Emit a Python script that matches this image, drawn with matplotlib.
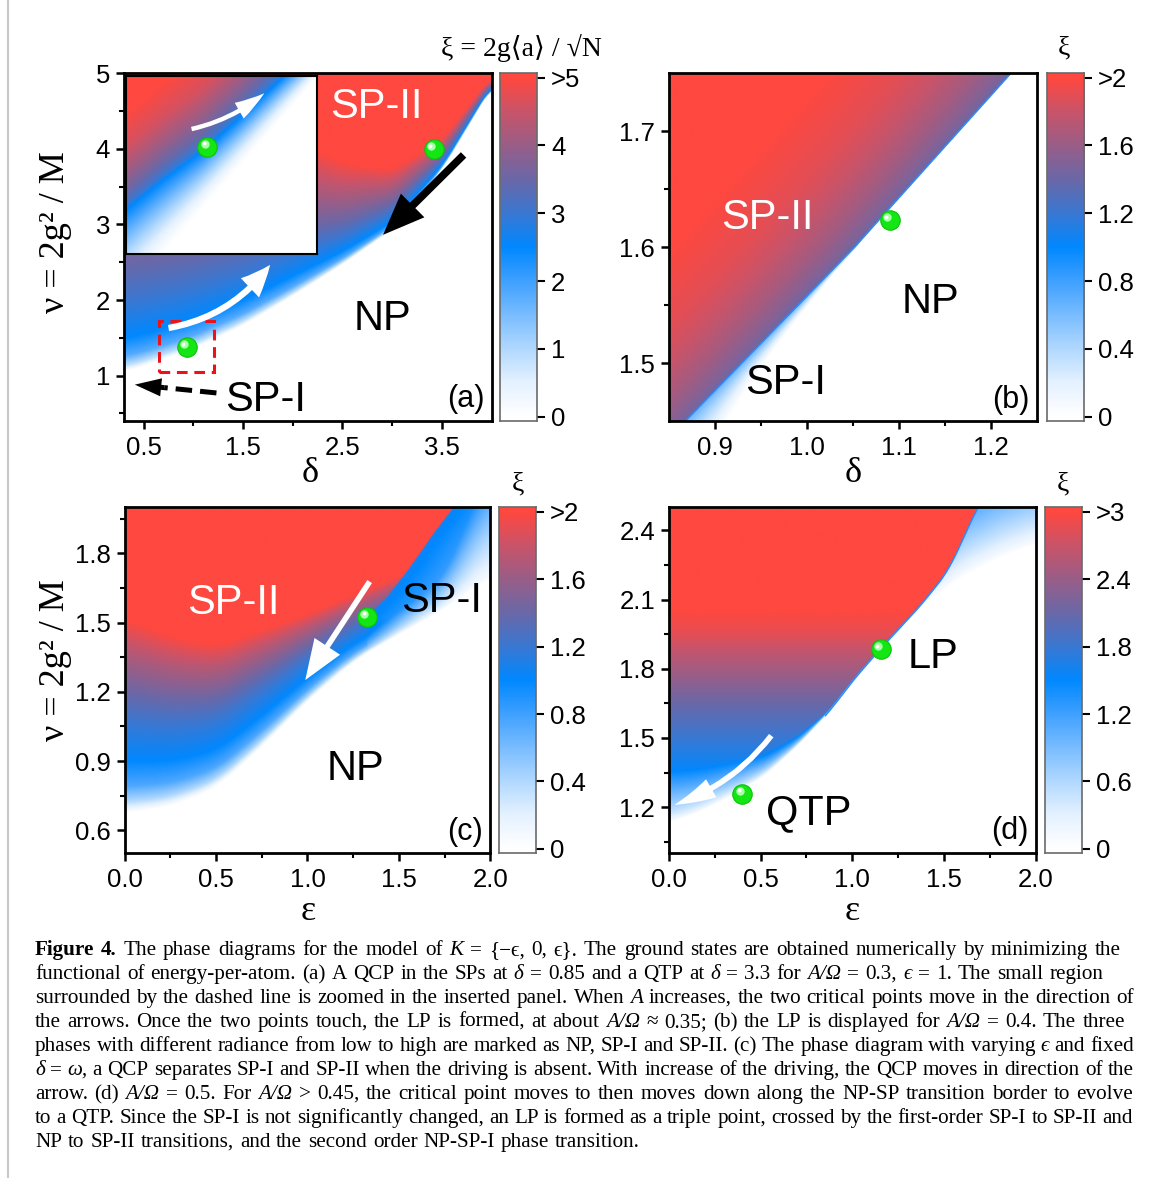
import numpy as np
import matplotlib
matplotlib.use('Agg')
import matplotlib.pyplot as plt
from matplotlib.colors import LinearSegmentedColormap
from matplotlib.patches import FancyArrowPatch, Rectangle
from matplotlib.lines import Line2D
from matplotlib import transforms

plt.rcParams['font.family'] = ['Liberation Sans', 'DejaVu Sans']
SERIF = ['Liberation Serif', 'DejaVu Serif', 'DejaVu Sans']

W, H = 1167, 1178
fig = plt.figure(figsize=(W / 100, H / 100), dpi=100)


def fx(px):
    return px / W


def fy(py):
    return 1 - py / H


def rect(x0, y0, x1, y1):
    return [fx(x0), fy(y1), (x1 - x0) / W, (y1 - y0) / H]


# colour scale (white -> blue -> red)
cmap_pos = [0.0, 0.1, 0.2, 0.3, 0.4, 0.5, 0.6, 0.7, 0.8, 0.9, 1.0]
cmap_col = ['#ffffff', '#e4f1ff', '#b0d8ff', '#78bcff', '#3ea0ff', '#0088ff',
            '#3a78d2', '#6a68a8', '#985e88', '#c8546a', '#fe4840']
cmap = LinearSegmentedColormap.from_list('xi', list(zip(cmap_pos, cmap_col)))

# ---- panel (a): delta vs nu ----
a_delta = [0.3, 0.5, 1.0, 1.5, 2.0, 2.5, 3.0, 3.5, 4.0]
a_nu_edge = [1.05, 1.12, 1.35, 1.66, 2.05, 2.47, 2.93, 3.72, 4.82]
a_width = [3.4, 3.3, 3.0, 2.6, 2.1, 1.35, 0.8, 0.4, 0.15]
a_prof_t = [0, 0.02, 0.06, 0.13, 0.27, 0.42, 0.6, 0.8, 1.0]
a_prof_xi = [0, 0.8, 1.8, 2.5, 3.0, 3.5, 4.0, 4.5, 5.0]
a_dots_delta = [0.932, 3.418]
a_dots_nu = [1.379, 3.999]

# inset of (a), unit coordinates
ins_u = [0.0, 0.2, 0.4, 0.6, 0.83, 1.0]
ins_v_white = [-0.24, 0.005, 0.25, 0.496, 0.778, 0.987]
ins_v_blue = [0.247, 0.42, 0.575, 0.77, 1.0, 1.15]
ins_up_d = [0, 0.03, 0.1, 0.2, 0.35, 0.55]
ins_up_xi = [2.5, 3.0, 3.5, 4.0, 4.6, 5.0]

# ---- panel (b) ----
b_nu = [1.45, 1.60, 1.75]
b_delta_edge = [0.868, 1.052, 1.222]
b_s = [0, 0.01, 0.04, 0.08, 0.12, 0.2]
b_xi = [1.4, 1.5, 1.65, 1.8, 1.9, 2.0]
b_nu_strip = [1.45, 1.49, 1.534, 1.578, 1.62]
b_strip_w = [0.045, 0.027, 0.0145, 0.005, 0.0]
b_dot = (1.090, 1.6235)

# ---- panel (c): epsilon vs nu ----
c_eps = [0, 0.25, 0.5, 0.75, 1.0, 1.25, 1.5, 1.75, 2.0]
c_nu_edge = [0.67, 0.70, 0.78, 0.96, 1.16, 1.33, 1.45, 1.56, 1.70]
c_width = [0.85, 0.74, 0.62, 0.51, 0.38, 0.29, 0.25, 0.25, 0.25]
c_prof_t = [0, 0.06, 0.14, 0.27, 0.47, 0.62, 0.82, 1.0]
c_prof_xi = [0, 0.4, 0.75, 1.0, 1.2, 1.4, 1.7, 2.0]
c_line_eps = [1.323, 1.433, 1.560, 1.687, 1.797, 1.85]
c_line_nu = [1.525, 1.611, 1.741, 1.886, 2.0, 2.06]
c_epsI = [1.3, 1.5, 1.75, 2.0]
c_widthI = [0.08, 0.1, 0.14, 0.5]
c_dot = (1.326, 1.526)

# ---- panel (d) ----
d_eps = [0, 0.16, 0.34, 0.52, 0.7, 0.87, 1.0, 1.154, 1.366, 1.525, 1.683, 1.8]
d_nu_edge = [1.132, 1.176, 1.248, 1.334, 1.464, 1.609, 1.745, 1.886, 2.067, 2.224, 2.5, 2.65]
d_fade = [0.22, 0.19, 0.15, 0.10, 0.05, 0.012, 0.01, 0.01, 0.01, 0.01, 0.01, 0.01]
d_nu_bulk = [1.0, 1.13, 1.25, 1.35, 1.45, 1.55, 1.65, 1.75, 1.85, 1.95, 2.05]
d_xi_bulk = [1.2, 1.25, 1.35, 1.5, 1.7, 1.9, 2.1, 2.35, 2.6, 2.85, 3.0]
d_epsI = [1.154, 1.4, 1.6, 1.8, 2.0]
d_nuI = [1.886, 2.08, 2.2, 2.28, 2.34]
d_dots_eps = [1.154, 0.40]
d_dots_nu = [1.886, 1.258]


# ---------- fields ----------
N = 500


def smooth_curve(xq, xp, fp, k=25):
    # piecewise-linear read-off points, softened a little for drawing
    y = np.interp(xq, xp, fp)
    pad = np.pad(y, k, mode='edge')
    return np.convolve(pad, np.ones(2 * k + 1) / (2 * k + 1), mode='same')[k:-k]


xa = np.linspace(0.3, 4.0, N)
ya = np.linspace(0.4, 5.0, N)
edge = smooth_curve(xa, a_delta, a_nu_edge, 15)[None, :]
wid = smooth_curve(xa, a_delta, a_width, 15)[None, :]
xi_a = np.interp((ya[:, None] - edge) / wid, a_prof_t, a_prof_xi)

U, V = np.meshgrid(np.linspace(0, 1, 300), np.linspace(0, 1, 300))
vb = np.interp(U, ins_u, ins_v_blue)
vw = np.interp(U, ins_u, ins_v_white)
below = 2.5 * np.clip((V - vw) / (vb - vw), 0, 1) ** 1.3
above = np.interp(V - vb, ins_up_d, ins_up_xi)
xi_in = np.where(V < vb, below, above)

Xb, Yb = np.meshgrid(np.linspace(0.85, 1.25, N), np.linspace(1.45, 1.75, N))
s = np.interp(Yb, b_nu, b_delta_edge) - Xb
w = np.interp(Yb, b_nu_strip, b_strip_w)
xi_I = 0.65 * np.clip(1 + s / np.maximum(w, 1e-6), 0, 1) * (w > 0)
xi_b = np.where(s >= 0, np.interp(s, b_s, b_xi), xi_I)

xc = np.linspace(0, 2, N)
Xc, Yc = np.meshgrid(xc, np.linspace(0.5, 2.0, N))
dc = Yc - smooth_curve(xc, c_eps, c_nu_edge)[None, :]
xi_II = np.interp(dc / smooth_curve(xc, c_eps, c_width)[None, :], c_prof_t, c_prof_xi)
right = Xc > c_line_eps[0]
sp1 = right & (Yc > c_line_nu[0]) & (Yc < np.interp(Xc, c_line_eps, c_line_nu))
away = np.clip((Xc - np.interp(Yc, c_line_nu, c_line_eps)) / 0.6, 0, 1)
xi_I = (1.05 * np.clip(dc / smooth_curve(xc, c_epsI, c_widthI, 20)[None, :], 0, 1) ** 0.6
        * (1 - 0.6 * away))
xi_c = np.where(sp1, xi_I,
                np.where(right & (Yc <= c_line_nu[0]), np.minimum(xi_II, xi_I), xi_II))

xd = np.linspace(0, 2, N)
Xd, Yd = np.meshgrid(xd, np.linspace(1.0, 2.5, N))
d_edge_s = smooth_curve(xd, d_eps, d_nu_edge, 14)
dd = Yd - d_edge_s[None, :]
fade = np.clip(dd / np.interp(Xd, d_eps, d_fade), 0, 1) ** 0.6
xi_II = np.interp(Yd, d_nu_bulk, d_xi_bulk) * fade
xi_I = 1.3 * np.clip((Yd - smooth_curve(xd, d_epsI, d_nuI, 15)[None, :]) / 0.35, 0, 1) ** 0.8
xi_d = np.where(dd > 0, xi_II, np.where(Xd > d_epsI[0], xi_I, 0))
sharp = (xd > 0.85) & (d_edge_s < 2.5)


# ---------- helpers ----------
def style(ax, xlim, ylim, xt, xtl, xm, yt, ytl, ym):
    ax.set_xlim(xlim)
    ax.set_ylim(ylim)
    ax.set_xticks(xt)
    ax.set_xticklabels(xtl)
    ax.set_xticks(xm, minor=True)
    ax.set_yticks(yt)
    ax.set_yticklabels(ytl)
    ax.set_yticks(ym, minor=True)
    ax.tick_params(which='major', direction='out', length=6, width=1.8, labelsize=18.5)
    ax.tick_params(which='minor', direction='out', length=3.5, width=1.5)
    ax.tick_params(axis='x', which='major', pad=4.5)
    ax.tick_params(axis='y', which='major', pad=4)
    for sp in ax.spines.values():
        sp.set_linewidth(2.0)


def field(ax, z, ext, vmax):
    ax.imshow(z, extent=ext, origin='lower', aspect='auto', cmap=cmap,
              vmin=0, vmax=vmax, interpolation='bilinear', zorder=0)


def cbar(r, vmax, ticks, labels):
    cax = fig.add_axes(r)
    lo, hi = -0.013 * vmax, 1.013 * vmax
    grad = np.linspace(lo, hi, 300)[:, None]
    cax.imshow(grad, extent=[0, 1, lo, hi], origin='lower', aspect='auto',
               cmap=cmap, vmin=0, vmax=vmax)
    cax.set_ylim(lo, hi)
    cax.set_xlim(0, 1)
    cax.set_xticks([])
    cax.yaxis.tick_right()
    cax.set_yticks(ticks)
    cax.set_yticklabels(labels)
    cax.tick_params(direction='out', length=6, width=1.5, labelsize=18.5, pad=4)
    for sp in cax.spines.values():
        sp.set_linewidth(1.2)
        sp.set_edgecolor('#6a6a6a')
    return cax


def green_dot(ax, x, y):
    ax.plot([x], [y], 'o', ms=14, mfc='#14e614', mec='#0cc00c', mew=0.8, zorder=6)
    off = transforms.offset_copy(ax.transData, fig=fig, x=-2.0, y=2.0, units='points')
    ax.plot([x], [y], 'o', ms=6, mfc='#a8ffa8', mec='none', zorder=7, transform=off)
    off2 = transforms.offset_copy(ax.transData, fig=fig, x=-2.4, y=2.4, units='points')
    ax.plot([x], [y], 'o', ms=2.8, mfc='white', mec='none', zorder=8, transform=off2)


def arrow(ax, tail, tip, color, hl, hw, tw, rad=0.0):
    p = FancyArrowPatch(tail, tip,
                        arrowstyle=f'simple,head_length={hl},head_width={hw},tail_width={tw}',
                        connectionstyle=f'arc3,rad={rad}', color=color, lw=0,
                        mutation_scale=1, shrinkA=0, shrinkB=0, zorder=5)
    ax.add_patch(p)


def dashed_arrow(ax, tail, tip, f=0.36):
    mid = (tip[0] + f * (tail[0] - tip[0]), tip[1] + f * (tail[1] - tip[1]))
    ax.plot([tail[0], mid[0]], [tail[1], mid[1]], color='black', lw=3.6,
            dashes=(3.3, 1.6), solid_capstyle='butt', dash_capstyle='butt', zorder=5)
    arrow(ax, mid, tip, 'black', 19, 13, 3.6)


def phase(ax, x, y, s, color='black', size=30):
    ax.text(x, y, s, color=color, fontsize=size, ha='center', va='baseline', zorder=6)


def serif_text(px, py, s, size=26, rot=0):
    fig.text(fx(px), fy(py), s, family=SERIF, fontsize=size, ha='center',
             va='center', rotation=rot)


# ---------- panel (a) ----------
ax = fig.add_axes(rect(123.8, 73.3, 491.6, 421))
field(ax, xi_a, [0.3, 4.0, 0.4, 5.0], 5)
style(ax, (0.3, 4.0), (0.4, 5.0), [0.5, 1.5, 2.5, 3.5], ['0.5', '1.5', '2.5', '3.5'],
      [1.0, 2.0, 3.0], [1, 2, 3, 4, 5], ['1', '2', '3', '4', '5'], [0.5, 1.5, 2.5, 3.5, 4.5])
for x, y in zip(a_dots_delta, a_dots_nu):
    green_dot(ax, x, y)
ax.add_patch(Rectangle((0.654, 1.044), 0.551, 0.673, fill=False, ec='#e8141a', lw=2.2,
                       ls=(0, (3.5, 2.2)), zorder=5))
arrow(ax, (3.718, 3.92), (2.908, 2.863), 'black', 30, 24, 5.5)
arrow(ax, (0.75, 1.63), (1.772, 2.466), 'white', 22, 19, 4.5, rad=0.2)
dashed_arrow(ax, (1.232, 0.771), (0.411, 0.881))
phase(ax, 2.841, 4.404, 'SP-II', 'white')
phase(ax, 2.905, 1.608, 'NP')
phase(ax, 1.721, 0.528, 'SP-I')
phase(ax, 3.737, 0.59, '(a)', size=22)

ins = fig.add_axes(rect(126.4, 76, 316.9, 254))
ins.imshow(xi_in, extent=[0, 1, 0, 1], origin='lower', aspect='auto', cmap=cmap,
           vmin=0, vmax=5, interpolation='bilinear')
ins.set_xlim(0, 1)
ins.set_ylim(0, 1)
ins.set_xticks([])
ins.set_yticks([])
for sp in ins.spines.values():
    sp.set_linewidth(1.5)
green_dot(ins, 0.425, 0.603)
arrow(ins, (0.342, 0.702), (0.724, 0.903), 'white', 22, 13, 3.2, rad=0.12)

cbar(rect(500, 73.3, 537, 421), 5, [0, 1, 2, 3, 4, 5], ['0', '1', '2', '3', '4', '>5'])
serif_text(521, 48, 'ξ = 2g⟨a⟩ / √N', size=20)
serif_text(310, 474, 'δ')
serif_text(55, 232, 'ν = 2g² / M', rot=90)

# ---------- panel (b) ----------
ax = fig.add_axes(rect(669, 73.3, 1036.7, 421))
field(ax, xi_b, [0.85, 1.25, 1.45, 1.75], 2)
ax.plot(b_delta_edge, b_nu, color='#2a8cff', lw=1.0, zorder=2)
style(ax, (0.85, 1.25), (1.45, 1.75), [0.9, 1.0, 1.1, 1.2], ['0.9', '1.0', '1.1', '1.2'],
      [0.95, 1.05, 1.15], [1.5, 1.6, 1.7], ['1.5', '1.6', '1.7'], [1.55, 1.65])
green_dot(ax, *b_dot)
phase(ax, 0.9573, 1.6154, 'SP-II', 'white')
phase(ax, 1.1349, 1.543, 'NP')
phase(ax, 0.9769, 1.4734, 'SP-I')
phase(ax, 1.2215, 1.4615, '(b)', size=22)
cbar(rect(1046.5, 73.3, 1084, 421), 2, [0, 0.4, 0.8, 1.2, 1.6, 2.0],
     ['0', '0.4', '0.8', '1.2', '1.6', '>2'])
serif_text(1064, 48, 'ξ', size=20)
serif_text(853, 474, 'δ')

# ---------- panel (c) ----------
ax = fig.add_axes(rect(124.5, 507.3, 490.4, 853.3))
field(ax, xi_c, [0, 2, 0.5, 2.0], 2)
style(ax, (0, 2), (0.5, 2.0), [0, 0.5, 1.0, 1.5, 2.0], ['0.0', '0.5', '1.0', '1.5', '2.0'],
      [0.25, 0.75, 1.25, 1.75], [0.6, 0.9, 1.2, 1.5, 1.8], ['0.6', '0.9', '1.2', '1.5', '1.8'],
      [0.75, 1.05, 1.35, 1.65, 1.95])
green_dot(ax, *c_dot)
arrow(ax, (1.34, 1.678), (0.988, 1.251), 'white', 29, 22, 4)
phase(ax, 0.592, 1.539, 'SP-II', 'white')
phase(ax, 1.733, 1.546, 'SP-I')
phase(ax, 1.262, 0.818, 'NP')
phase(ax, 1.863, 0.558, '(c)', size=22)
cbar(rect(499, 507.3, 536, 853.3), 2, [0, 0.4, 0.8, 1.2, 1.6, 2.0],
     ['0', '0.4', '0.8', '1.2', '1.6', '>2'])
serif_text(518, 484, 'ξ', size=20)
serif_text(308, 912, 'ε')
serif_text(55, 660, 'ν = 2g² / M', rot=90)

# ---------- panel (d) ----------
ax = fig.add_axes(rect(669, 507.3, 1035.6, 853.3))
field(ax, xi_d, [0, 2, 1.0, 2.5], 3)
ax.plot(xd[sharp], d_edge_s[sharp], color='#2a8cff', lw=1.0, zorder=2)
style(ax, (0, 2), (1.0, 2.5), [0, 0.5, 1.0, 1.5, 2.0], ['0.0', '0.5', '1.0', '1.5', '2.0'],
      [0.25, 0.75, 1.25, 1.75], [1.2, 1.5, 1.8, 2.1, 2.4], ['1.2', '1.5', '1.8', '2.1', '2.4'],
      [1.05, 1.35, 1.65, 1.95, 2.25])
for x, y in zip(d_dots_eps, d_dots_nu):
    green_dot(ax, x, y)
arrow(ax, (0.558, 1.51), (0.03, 1.21), 'white', 29, 15, 4, rad=-0.15)
phase(ax, 1.44, 1.803, 'LP')
phase(ax, 0.762, 1.125, 'QTP')
phase(ax, 1.861, 1.06, '(d)', size=22)
cbar(rect(1045, 507.3, 1082, 853.3), 3, [0, 0.6, 1.2, 1.8, 2.4, 3.0],
     ['0', '0.6', '1.2', '1.8', '2.4', '>3'])
serif_text(1063, 484, 'ξ', size=20)
serif_text(852, 912, 'ε')

# ---------- frame line and caption ----------
fig.add_artist(Line2D([fx(8), fx(8)], [0, 1], transform=fig.transFigure, color='#c8c8c8', lw=1.5))

caption = [
    '^Figure ^4. The phase diagrams for the model of ~K = {−ϵ, 0, ϵ}. The ground states are obtained numerically by minimizing the',
    'functional of energy-per-atom. (a) A QCP in the SPs at ~δ = 0.85 and a QTP at ~δ = 3.3 for ~A/Ω = 0.3, ~ϵ = 1. The small region',
    'surrounded by the dashed line is zoomed in the inserted panel. When ~A increases, the two critical points move in the direction of',
    'the arrows. Once the two points touch, the LP is formed, at about ~A/Ω ≈ 0.35; (b) the LP is displayed for ~A/Ω = 0.4. The three',
    'phases with different radiance from low to high are marked as NP, SP-I and SP-II. (c) The phase diagram with varying ~ϵ and fixed',
    '~δ = ~ω, a QCP separates SP-I and SP-II when the driving is absent. With increase of the driving, the QCP moves in direction of the',
    'arrow. (d) ~A/Ω = 0.5. For ~A/Ω > 0.45, the critical point moves to then moves down along the NP-SP transition border to evolve',
    'to a QTP. Since the SP-I is not significantly changed, an LP is formed as a triple point, crossed by the first-order SP-I to SP-II and',
    'NP to SP-II transitions, and the second order NP-SP-I phase transition.',
]
cap_right = [1121, 1103, 1134, 1125, 1134, 1134, 1133, 1133, 640]
renderer = fig.canvas.get_renderer()
for i, line in enumerate(caption):
    base = 955 + 24 * i
    texts = []
    for word in line.split(' '):
        kw = {}
        if word.startswith('^'):
            word, kw = word[1:], {'weight': 'bold'}
        elif word.startswith('~'):
            word, kw = word[1:], {'style': 'italic'}
        texts.append(fig.text(0, fy(base), word, family=SERIF, fontsize=15.2,
                              va='baseline', ha='left', **kw))
    widths = [t.get_window_extent(renderer).width for t in texts]
    gap = (cap_right[i] - 35 - sum(widths)) / (len(texts) - 1)
    x = 35
    for t, wd in zip(texts, widths):
        t.set_x(fx(x))
        x += wd + gap

fig.savefig('out.png', dpi=100)
